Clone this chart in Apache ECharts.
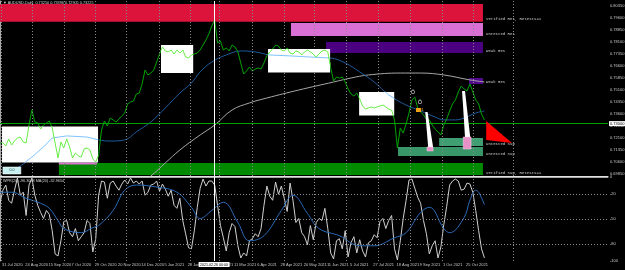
<!DOCTYPE html>
<html><head><meta charset="utf-8">
<script src="https://cdn.jsdelivr.net/npm/echarts@6.0.0/dist/echarts.min.js"></script>
<style>html,body{margin:0;padding:0;background:#000;overflow:hidden}#c{width:625px;height:270px}</style>
</head><body><div id="c"></div>
<script>
// ---- axis / tick data ----
const tickLabels = ['31 Jul 2020','24 Aug 2020','15 Sep 2020','7 Oct 2020','29 Oct 2020','20 Nov 2020','14 Dec 2020','5 Jan 2021','28 Jan 2021','19 Feb 2021','11 Mar 2021','6 Apr 2021','28 Apr 2021','20 May 2021','11 Jun 2021','5 Jul 2021','27 Jul 2021','18 Aug 2021','9 Sep 2021','1 Oct 2021','25 Oct 2021'];
const tickStep = 8;                       // samples between date labels
const monthLines = [0.5,11,22,33,43.5,55,65.5,75.5,87,98,108.5,119.5,130.5,141.5,152.5,163,177];
const priceTicks = [0.8035,0.796,0.7885,0.781,0.7735,0.766,0.7585,0.751,0.7435,0.736,0.7285,0.721,0.7135,0.706,0.6985];
const priceRange = [0.69725, 0.806625];
const xRange = [0, 209.6];
const wprTicks = [0,-20,-50,-80,-100];
const wprLevels = [-20,-50,-80];
const markedSample = 73.8;
const markedDate = '2021.02.26 00:00';
const titleText = '\u25BC AUDUSD,Daily  0.73250 0.73396 0.72905 0.73225';
const wprTitle = 'WPR(20) -96.3038 MA(20) -32.9654';

// ---- series data (one sample every two daily bars) ----
const closeVals = [
0.7179,0.7181,0.7160,0.7204,0.7166,0.7191,0.7210,0.7216,0.7185,0.7179,
0.7291,0.7385,0.7310,0.7304,0.7266,0.7291,0.7304,0.7316,0.7273,0.7179,
0.7085,0.7185,0.7148,0.7204,0.7154,0.7085,0.7116,0.7098,0.7091,0.7141,
0.7148,0.7135,0.7079,0.7060,0.7104,0.7260,0.7316,0.7285,0.7335,0.7323,
0.7310,0.7329,0.7348,0.7366,0.7423,0.7435,0.7441,0.7485,0.7491,0.7548,
0.7635,0.7604,0.7616,0.7635,0.7685,0.7735,0.7779,0.7754,0.7748,0.7760,
0.7735,0.7760,0.7741,0.7760,0.7716,0.7710,0.7729,0.7735,0.7741,0.7760,
0.7791,0.7823,0.7860,0.7910,0.7948,0.7804,0.7816,0.7760,0.7773,0.7754,
0.7791,0.7779,0.7748,0.7679,0.7610,0.7629,0.7654,0.7629,0.7641,0.7648,
0.7641,0.7679,0.7723,0.7748,0.7766,0.7791,0.7785,0.7760,0.7754,0.7773,
0.7741,0.7735,0.7754,0.7748,0.7729,0.7748,0.7760,0.7748,0.7735,0.7716,
0.7735,0.7754,0.7760,0.7748,0.7648,0.7566,0.7591,0.7585,0.7591,0.7560,
0.7516,0.7485,0.7473,0.7491,0.7454,0.7410,0.7391,0.7398,0.7404,0.7398,
0.7404,0.7410,0.7416,0.7404,0.7391,0.7385,0.7323,0.7148,0.7273,0.7241,
0.7298,0.7366,0.7448,0.7466,0.7398,0.7373,0.7354,0.7329,0.7323,0.7291,
0.7266,0.7248,0.7229,0.7291,0.7329,0.7379,0.7423,0.7448,0.7498,0.7535,
0.7516,0.7504,0.7548,0.7498,0.7448,0.7423,0.7360,0.73225];
const maFast = [[3,0.6998],[7,0.7035],[11,0.7091],[15,0.7154],[18,0.7210],[23,0.7223],[30,0.7216],[34,0.7198],[38,0.7191],[43,0.7198],[47,0.7248],[52,0.7310],[57,0.7398],[62,0.7491],[66,0.7554],[69,0.7623],[73,0.7685],[78,0.7729],[83,0.7754],[88,0.7748],[93,0.7729],[100,0.7723],[107,0.7716],[114,0.7710],[119,0.7679],[124,0.7623],[129,0.7560],[134,0.7479],[140,0.7416],[145,0.7379],[150,0.7341],[153,0.7323],[157,0.7323],[160,0.7335],[164,0.7366],[167,0.7379]];
const maSlow = [[50,0.6950],[52,0.6972],[57,0.7054],[62,0.7135],[69,0.7229],[74,0.7291],[80,0.7385],[86,0.7429],[92,0.7460],[103,0.7510],[115,0.7560],[121,0.7585],[127,0.7604],[138,0.7616],[145,0.7616],[153,0.7604],[162,0.7573],[167,0.7560]];
const wpr = [
-31.3,-15.7,-9.6,-27.7,-31.3,-15.7,-1.2,-21.7,-18.1,-45.8,
-9.6,-1.2,-21.7,-33.7,-42.2,-49.4,-39.8,-44.6,-63.9,-91.6,
-94.0,-75.9,-53.0,-51.8,-66.3,-71.1,-61.4,-75.9,-71.1,-66.3,
-51.8,-55.4,-89.2,-73.5,-21.7,-4.8,-6.0,-25.3,-7.2,-4.8,
-10.8,-15.7,-8.4,-3.6,-8.4,-1.2,-7.2,-4.8,-8.4,-4.8,
-21.7,-18.1,-9.6,-8.4,-4.8,-16.9,-8.4,-14.5,-22.9,-15.7,
-33.7,-37.3,-25.3,-51.8,-67.5,-84.3,-85.5,-63.9,-36.1,-13.3,
-2.4,-10.8,-4.8,-4.8,-9.6,-33.7,-57.8,-72.3,-88.0,-66.3,
-55.4,-59.0,-81.9,-96.4,-90.4,-94.0,-75.9,-73.5,-67.5,-71.1,
-61.4,-33.7,-10.8,-22.9,-27.7,-6.0,-20.5,-10.8,-25.3,-41.0,
-7.2,-27.7,-54.2,-49.4,-66.3,-71.1,-80.7,-57.8,-74.7,-54.2,
-49.4,-51.8,-37.3,-61.4,-90.4,-97.6,-75.9,-73.5,-85.5,-63.9,
-95.2,-78.3,-71.1,-90.4,-74.7,-88.0,-95.2,-78.3,-75.9,-68.7,
-72.3,-53.0,-49.4,-61.4,-51.8,-45.8,-85.5,-98.8,-75.9,-49.4,
-27.7,-3.6,-2.4,-13.3,-24.1,-31.3,-51.8,-67.5,-91.6,-81.9,
-75.9,-96.4,-83.1,-56.6,-34.9,-9.6,-4.8,-2.4,-4.8,-15.7,
-14.5,-7.2,-8.4,-18.1,-39.8,-63.9,-85.5,-96.3];
const wprMa = [[0,-18.1],[4,-18.1],[9,-25.3],[14,-31.3],[17,-37.3],[20,-51.8],[22,-61.4],[28,-66.3],[32,-60.2],[34,-57.8],[39,-39.8],[43,-15.7],[47,-9.6],[54,-12.0],[61,-18.1],[66,-36.1],[69,-49.4],[73,-39.8],[77,-30.1],[82,-54.2],[86,-75.9],[91,-69.9],[97,-39.8],[101,-21.7],[106,-43.4],[110,-61.4],[117,-69.9],[124,-81.9],[129,-81.9],[136,-72.3],[140,-66.3],[145,-42.2],[148,-36.1],[153,-61.4],[155,-66.3],[160,-48.2],[162,-27.7],[164,-15.7],[165,-18.1],[167,-33.0]];

// ---- zones / objects (sample index, price) ----
const zoneLabels = ['Verified Res, Retests=1','Untested Res','Weak Res','Weak Res','Untested Sup','Untested Sup','Verified Sup, Retests=1',''];
const zoneBounds = [[0,166.5,0.80475,0.7937],[100.3,166.5,0.79288,0.78475],[112.4,166.5,0.781,0.77413],[161.7,166.5,0.7585,0.75475],[151.4,166.5,0.721,0.716],[137.2,166.5,0.71538,0.70975],[20.3,166.5,0.70538,0.69788],[20.3,33.4,0.70569,0.70444]];
const boxes = [[0.7,33.8,0.72819,0.70569],[55.5,66.6,0.77913,0.76163],[92.4,113.8,0.77663,0.76194],[123.8,135.9,0.74975,0.73506]];
const triangle = [[167.6,0.73163],[167.6,0.71975],[176.5,0.71788]];
const wedges = [[[146.6,0.73725],[147.4,0.73725],[149.3,0.71538],[147.6,0.71538]],[[159.3,0.75038],[160.3,0.75038],[162.1,0.72163],[160.3,0.72163]]];
const pinkMarks = [[147.2,149.3,0.71538,0.71288],[159.7,162.4,0.72163,0.71413]];
const icons = [[142.4,0.74913],[144.8,0.74288]];
const orangeMark = [143.4,145.2,0.73975,0.73725];
const cornerBox = [1.0,7.2,0.70288,0.6985];
const cornerText = '0.0';

// ---- styles ----
const zoneColors = ['#dc143c','#da70d6','#4b0082','#52088e','#3f9f72','#389668','#008a00','#e070d0'];
const FONT = 'Liberation Sans';
const GRIDC = '#8a8a8a';

const closePairs = closeVals.map((v,i)=>[i,v]);
const wprPairs = wpr.map((v,i)=>[i,v]);

function rectOf(api, b){
  const a = api.coord([b[0], b[2]]), c = api.coord([b[1], b[3]]);
  return {x:a[0], y:a[1], width:c[0]-a[0], height:c[1]-a[1]};
}
// Liang-Barsky segment clipping against a pixel rect
function clipSeg(x0,y0,x1,y1,r){
  let t0=0,t1=1; const dx=x1-x0, dy=y1-y0;
  const p=[-dx,dx,-dy,dy], q=[x0-r.x, r.x+r.width-x0, y0-r.y, r.y+r.height-y0];
  for (let i=0;i<4;i++){
    if (p[i]===0){ if (q[i]<0) return null; }
    else { const t=q[i]/p[i]; if (p[i]<0){ if (t>t1) return null; if (t>t0) t0=t; } else { if (t<t0) return null; if (t<t1) t1=t; } }
  }
  return [x0+t0*dx, y0+t0*dy, x0+t1*dx, y0+t1*dy];
}
function clippedLines(api, pts, r, color){
  const out=[];
  for (let i=1;i<pts.length;i++){
    const a=api.coord(pts[i-1]), b=api.coord(pts[i]);
    const s=clipSeg(a[0],a[1],b[0],b[1],r);
    if (s) out.push({type:'line', shape:{x1:s[0],y1:s[1],x2:s[2],y2:s[3]}, style:{stroke:color, lineWidth:1}});
  }
  return out;
}
function monthSeries(idx){
  return {type:'line', xAxisIndex:idx, yAxisIndex:idx, data:[], z:1, silent:true,
    markLine:{silent:true, animation:false, symbol:['none','none'], label:{show:false},
      lineStyle:{color:GRIDC, type:[1,2], width:1}, data: monthLines.map(v=>({xAxis:v}))}};
}

const option = {
  backgroundColor:'#000000', animation:false,
  grid:[
    {left:0, top:1, width:608, height:175, containLabel:false, outerBoundsMode:'none'},
    {left:0, top:177, width:608, height:84, containLabel:false, outerBoundsMode:'none'}
  ],
  xAxis:[
    {type:'value', gridIndex:0, min:xRange[0], max:xRange[1], axisLine:{show:true, lineStyle:{color:'#e0e0e0'}}, axisTick:{show:false}, axisLabel:{show:false}, splitLine:{show:false}},
    {type:'value', gridIndex:1, min:xRange[0], max:xRange[1], axisLine:{show:true, lineStyle:{color:'#a8a8a8'}}, axisTick:{show:false}, splitLine:{show:false},
      axisLabel:{show:true, customValues: tickLabels.map((_,i)=>i*tickStep), formatter:v=>tickLabels[Math.round(v/tickStep)] || '',
        color:'#c8c8c8', fontSize:4, fontFamily:FONT, align:'left', margin:2, padding:[0,0,0,2]}}
  ],
  yAxis:[
    {type:'value', gridIndex:0, position:'right', min:priceRange[0], max:priceRange[1], axisLine:{show:true, lineStyle:{color:'#a8a8a8'}}, axisTick:{show:false}, splitLine:{show:false},
      axisLabel:{customValues:priceTicks, formatter:v=>v.toFixed(5), color:'#c8c8c8', fontSize:4, fontFamily:FONT, margin:2}},
    {type:'value', gridIndex:1, position:'right', min:-100, max:0, axisLine:{show:true, lineStyle:{color:'#a8a8a8'}}, axisTick:{show:false}, splitLine:{show:false},
      axisLabel:{customValues:wprTicks, formatter:v=>String(v), color:'#c8c8c8', fontSize:4, fontFamily:FONT, margin:2}}
  ],
  series:[
    monthSeries(0), monthSeries(1),
    {type:'custom', xAxisIndex:0, yAxisIndex:0, z:1, silent:true, data: zoneBounds,
      renderItem:(params, api)=>{
        const i = params.dataIndex;
        const r = rectOf(api, zoneBounds[i]);
        const ch = [{type:'rect', shape:r, style:{fill:zoneColors[i]}}];
        if (zoneLabels[i]) ch.push({type:'text', x:r.x+r.width+3, y:r.y+r.height-0.5,
          style:{text:zoneLabels[i], fill:'#d0d0d0', fontSize:4, fontFamily:'Liberation Mono', align:'left', verticalAlign:'bottom'}});
        return {type:'group', children:ch};
      }},
    {type:'line', xAxisIndex:0, yAxisIndex:0, data:maSlow, smooth:0.4, showSymbol:false, z:3, lineStyle:{color:'#a6a6a6', width:1}},
    {type:'line', xAxisIndex:0, yAxisIndex:0, data:maFast, smooth:0.4, showSymbol:false, z:3, lineStyle:{color:'#1e5a9c', width:1}},
    {type:'line', xAxisIndex:0, yAxisIndex:0, data:closePairs, showSymbol:false, z:4, lineStyle:{color:'#00a400', width:1},
      markLine:{silent:true, animation:false, symbol:['none','none'], data:[
        {yAxis: closeVals[closeVals.length-1], lineStyle:{color:'#00a000', type:'solid', width:1},
          label:{show:true, position:'end', distance:1, formatter:p=>p.value.toFixed(5), backgroundColor:'#ffffff', color:'#000', fontSize:4, fontFamily:FONT, padding:[0.5,1]}},
        {xAxis: markedSample, lineStyle:{color:'#ffffff', type:'solid', width:1}, label:{show:false}}
      ]}},
    // white boxes; the lines passing through them are drawn in light colours
    {type:'custom', xAxisIndex:0, yAxisIndex:0, z:6, silent:true, data: boxes,
      renderItem:(params, api)=>{
        const r = rectOf(api, boxes[params.dataIndex]);
        const ch = [{type:'rect', shape:r, style:{fill:'#ffffff'}}];
        ch.push(...clippedLines(api, maFast, r, '#7fc4ff'));
        ch.push(...clippedLines(api, closePairs, r, '#66ee44'));
        return {type:'group', children:ch};
      }},
    {type:'custom', xAxisIndex:0, yAxisIndex:0, z:8, silent:true, data:[0],
      renderItem:(params, api)=>{
        const ch = [];
        ch.push({type:'polygon', shape:{points:triangle.map(p=>api.coord(p))}, style:{fill:'#ff0000'}});
        wedges.forEach(w=>ch.push({type:'polygon', shape:{points:w.map(p=>api.coord(p))}, style:{fill:'#ffffff'}}));
        pinkMarks.forEach(b=>ch.push({type:'rect', shape:rectOf(api,b), style:{fill:'#e890c8', stroke:'#ffd0ee', lineWidth:0.5}}));
        const o = rectOf(api, orangeMark);
        ch.push({type:'rect', shape:o, style:{fill:'#f0a010'}});
        ch.push({type:'text', x:o.x+o.width+0.5, y:o.y+o.height/2, style:{text:'1', fill:'#f0c040', fontSize:3.5, fontFamily:FONT, verticalAlign:'middle'}});
        icons.forEach(p=>{const c=api.coord(p); ch.push({type:'text', x:c[0], y:c[1], style:{text:'\u00D6', fill:'#ffffff', fontSize:5, fontFamily:FONT, align:'center', verticalAlign:'middle'}});});
        const cb = rectOf(api, cornerBox);
        ch.push({type:'rect', shape:cb, style:{fill:'#c8f0f0', stroke:'#ffffff', lineWidth:0.5}});
        ch.push({type:'text', x:cb.x+cb.width/2, y:cb.y+cb.height/2, style:{text:cornerText, fill:'#204040', fontSize:3.5, fontFamily:FONT, align:'center', verticalAlign:'middle'}});
        return {type:'group', children:ch};
      }},
    {type:'line', xAxisIndex:1, yAxisIndex:1, data:wprPairs, showSymbol:false, z:3, lineStyle:{color:'#d0d0d0', width:1},
      markLine:{silent:true, animation:false, symbol:['none','none'], data:[
        ...wprLevels.map(v=>({yAxis:v, lineStyle:{color:GRIDC, type:[1,2], width:1}, label:{show:false}})),
        {xAxis: markedSample, lineStyle:{color:'#ffffff', type:'solid', width:1},
          label:{show:true, position:'start', distance:1, formatter:()=>markedDate, backgroundColor:'#ffffff', color:'#000', fontSize:3.6, fontFamily:FONT, padding:[0.5,1.5]}}
      ]}},
    {type:'line', xAxisIndex:1, yAxisIndex:1, data:wprMa, smooth:0.4, showSymbol:false, z:4, lineStyle:{color:'#2a6ab8', width:1}}
  ],
  graphic:[
    {type:'text', left:3, top:1, z:100, style:{text:titleText, fill:'#d0d0d0', fontSize:3.8, fontFamily:FONT}},
    {type:'text', left:3, top:178.5, z:100, style:{text:wprTitle, fill:'#d0d0d0', fontSize:3.8, fontFamily:FONT}}
  ]
};

const chart = echarts.init(document.getElementById('c'), null, {renderer:'canvas'});
chart.setOption(option);
</script></body></html>
